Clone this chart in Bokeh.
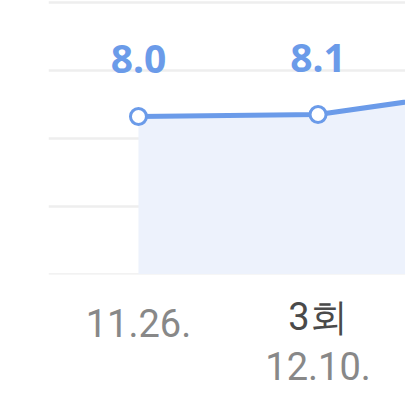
from bokeh.plotting import figure
from bokeh.models import Range1d, FixedTicker, ColumnDataSource, LinearAxis
from bokeh.core.properties import value
from bokeh.embed import file_html
from bokeh.resources import INLINE

# data
idx = [0, 1, 2]
scores = [8.0, 8.1, 9.4]
dates = ["11.26.", "12.10.", ""]
rounds = ["", "3회", ""]
visible = [0, 1]
grid_vals = [0, 3.45, 6.9, 10.35, 13.8]

BLUE = "#6b9be9"

src = ColumnDataSource(dict(x=idx, y=scores))
lab_src = ColumnDataSource(dict(x=[idx[i] for i in visible],
                                y=[scores[i] for i in visible],
                                lab=[f"{scores[i]:.1f}" for i in visible]))

p = figure(width=405, height=418, output_backend="svg", toolbar_location=None,
           x_range=Range1d(-0.501, 1.487), y_range=Range1d(-0.025, 13.89),
           min_border_left=48, min_border_right=0, min_border_top=0,
           min_border_bottom=144)
p.outline_line_color = None
p.background_fill_color = "white"
p.border_fill_color = "white"

p.yaxis.visible = False
p.xgrid.visible = False
p.ygrid.ticker = FixedTicker(ticks=grid_vals)
p.ygrid.grid_line_color = "#eeeeee"
p.ygrid.grid_line_width = 2.5

p.varea(x="x", y1=0, y2="y", source=src, fill_color="#edf2fc", fill_alpha=1)
p.line(x="x", y="y", source=src, line_color=BLUE, line_width=5)
p.scatter(x="x", y="y", source=src, size=16, fill_color="white",
          line_color=BLUE, line_width=3)
p.text(x="x", y="y", text="lab", source=lab_src, text_align="center",
       text_baseline="alphabetic", y_offset=-57, text_color=BLUE,
       text_font=value("Noto Sans"), text_font_style="bold",
       text_font_size="39px")


def style(ax, color, standoff):
    ax.axis_line_color = None
    ax.major_tick_line_color = None
    ax.minor_tick_line_color = None
    ax.major_tick_out = 0
    ax.major_tick_in = 0
    ax.major_label_text_color = color
    ax.major_label_text_font = "Roboto"
    ax.major_label_text_font_size = "38px"
    ax.major_label_standoff = standoff


# row 1: dates of points without a round label
axA = p.xaxis[0]
axA.ticker = FixedTicker(ticks=visible)
axA.major_label_overrides = {i: (dates[i] if not rounds[i] else "") for i in visible}
style(axA, "#888888", 34)

# row 1: round labels (overlapping row of axis A)
axB = LinearAxis(ticker=FixedTicker(ticks=visible))
axB.major_label_overrides = {i: rounds[i] for i in visible}
style(axB, "#4a4a4a", -45)
p.add_layout(axB, "below")

# row 2: dates under round labels
axC = LinearAxis(ticker=FixedTicker(ticks=visible))
axC.major_label_overrides = {i: (dates[i] if rounds[i] else "") for i in visible}
style(axC, "#888888", 10)
p.add_layout(axC, "below")

open("out.html", "w").write(file_html(p, INLINE))
